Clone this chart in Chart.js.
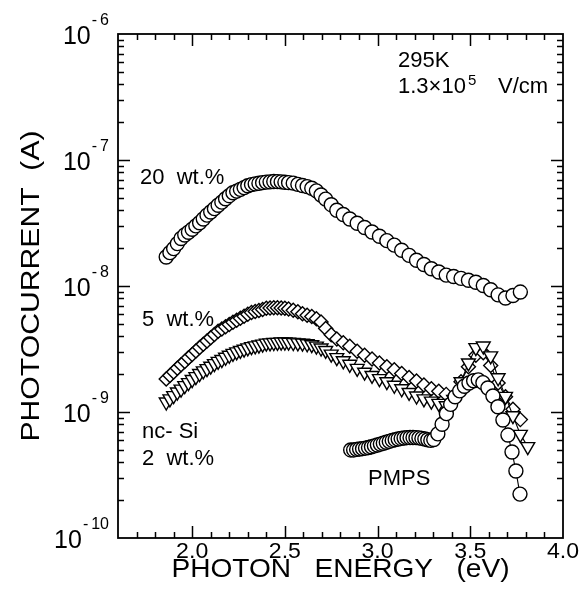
<!DOCTYPE html>
<html>
<head>
<meta charset="utf-8">
<script src="https://cdn.jsdelivr.net/npm/chart.js@4.4.1/dist/chart.umd.min.js"></script>
<style>
  html, body { margin: 0; padding: 0; background: #fff; }
</style>
</head>
<body>
<canvas id="photoChart" width="583" height="598"></canvas>
<script>
// Photon energies (eV) shared by the three nc-Si samples
const energy = [
  1.86, 1.88, 1.90, 1.92, 1.94, 1.96, 1.98, 2.00, 2.02, 2.04,
  2.06, 2.08, 2.10, 2.12, 2.14, 2.16, 2.18, 2.20, 2.22, 2.24,
  2.26, 2.28, 2.30, 2.32, 2.34, 2.36, 2.38, 2.40, 2.42, 2.44,
  2.46, 2.48, 2.50, 2.52, 2.545, 2.57, 2.595, 2.62, 2.645, 2.67,
  2.695, 2.72, 2.75, 2.78, 2.815, 2.85, 2.89, 2.93, 2.97, 3.01,
  3.05, 3.09, 3.13, 3.17, 3.21, 3.25, 3.29, 3.33, 3.37, 3.41,
  3.45, 3.49, 3.53, 3.57, 3.61, 3.65, 3.69, 3.73, 3.77, 3.81
];

// Photocurrent (A), 20 wt.% nc-Si
const current20 = [
  1.70e-8, 1.84e-8, 1.98e-8, 2.17e-8, 2.38e-8, 2.54e-8, 2.67e-8, 2.82e-8, 3.00e-8, 3.18e-8,
  3.40e-8, 3.65e-8, 3.87e-8, 4.11e-8, 4.37e-8, 4.63e-8, 4.92e-8, 5.21e-8, 5.50e-8, 5.66e-8,
  5.85e-8, 6.04e-8, 6.25e-8, 6.38e-8, 6.46e-8, 6.53e-8, 6.61e-8, 6.68e-8, 6.71e-8, 6.75e-8,
  6.73e-8, 6.70e-8, 6.65e-8, 6.61e-8, 6.55e-8, 6.41e-8, 6.28e-8, 6.15e-8, 5.96e-8, 5.69e-8,
  5.28e-8, 4.89e-8, 4.42e-8, 3.99e-8, 3.69e-8, 3.40e-8, 3.15e-8, 2.91e-8, 2.68e-8, 2.48e-8,
  2.29e-8, 2.11e-8, 1.92e-8, 1.75e-8, 1.60e-8, 1.48e-8, 1.37e-8, 1.29e-8, 1.22e-8, 1.19e-8,
  1.15e-8, 1.11e-8, 1.07e-8, 1.01e-8, 9.33e-9, 8.51e-9, 8.04e-9, 8.40e-9, 8.95e-9, null
];

// Photocurrent (A), 5 wt.% nc-Si
const current5 = [
  1.83e-9, 1.95e-9, 2.08e-9, 2.22e-9, 2.37e-9, 2.52e-9, 2.69e-9, 2.86e-9, 3.05e-9, 3.25e-9,
  3.45e-9, 3.66e-9, 3.89e-9, 4.13e-9, 4.37e-9, 4.55e-9, 4.74e-9, 4.94e-9, 5.15e-9, 5.35e-9,
  5.55e-9, 5.75e-9, 5.96e-9, 6.15e-9, 6.27e-9, 6.40e-9, 6.52e-9, 6.65e-9, 6.70e-9, 6.73e-9,
  6.73e-9, 6.70e-9, 6.65e-9, 6.58e-9, 6.43e-9, 6.24e-9, 6.03e-9, 5.86e-9, 5.73e-9, 5.50e-9,
  5.19e-9, 4.60e-9, 4.10e-9, 3.80e-9, 3.55e-9, 3.33e-9, 3.03e-9, 2.82e-9, 2.63e-9, 2.45e-9,
  2.29e-9, 2.16e-9, 2.02e-9, 1.88e-9, 1.76e-9, 1.64e-9, 1.53e-9, 1.46e-9, 1.38e-9, 1.26e-9,
  1.74e-9, 2.29e-9, 2.82e-9, 2.95e-9, 2.34e-9, 1.70e-9, 1.32e-9, 1.05e-9, 8.70e-10, null
];

// Photocurrent (A), 2 wt.% nc-Si
const current2 = [
  1.20e-9, 1.27e-9, 1.35e-9, 1.44e-9, 1.52e-9, 1.62e-9, 1.71e-9, 1.81e-9, 1.91e-9, 2.02e-9,
  2.12e-9, 2.21e-9, 2.31e-9, 2.42e-9, 2.52e-9, 2.61e-9, 2.72e-9, 2.82e-9, 2.92e-9, 3.00e-9,
  3.08e-9, 3.15e-9, 3.23e-9, 3.30e-9, 3.35e-9, 3.40e-9, 3.46e-9, 3.52e-9, 3.54e-9, 3.56e-9,
  3.57e-9, 3.59e-9, 3.59e-9, 3.58e-9, 3.56e-9, 3.54e-9, 3.52e-9, 3.48e-9, 3.42e-9, 3.33e-9,
  3.22e-9, 3.08e-9, 2.88e-9, 2.70e-9, 2.55e-9, 2.39e-9, 2.22e-9, 2.07e-9, 1.95e-9, 1.84e-9,
  1.74e-9, 1.63e-9, 1.53e-9, 1.43e-9, 1.34e-9, 1.27e-9, 1.22e-9, 1.17e-9, 1.12e-9, 1.26e-9,
  1.74e-9, 2.45e-9, 3.24e-9, 3.34e-9, 2.79e-9, 1.87e-9, 1.33e-9, 9.35e-10, 6.64e-10, 5.31e-10
];

// Pure PMPS film, measured on a finer grid
const pmpsEnergy = [
  2.855, 2.871, 2.887, 2.903, 2.919, 2.935, 2.951, 2.967, 2.983, 2.999,
  3.015, 3.031, 3.047, 3.063, 3.079, 3.095, 3.111, 3.127, 3.143, 3.159,
  3.175, 3.191, 3.207, 3.223, 3.239, 3.255, 3.271, 3.287, 3.303, 3.325,
  3.348, 3.371, 3.394, 3.418, 3.443, 3.468, 3.493, 3.518, 3.543, 3.568,
  3.595, 3.622, 3.649, 3.676, 3.703, 3.725, 3.746, 3.768
];
const pmpsCurrent = [
  5.00e-10, 5.00e-10, 5.05e-10, 5.08e-10, 5.12e-10, 5.17e-10, 5.23e-10, 5.30e-10, 5.38e-10, 5.47e-10,
  5.56e-10, 5.65e-10, 5.75e-10, 5.85e-10, 5.95e-10, 6.03e-10, 6.11e-10, 6.17e-10, 6.22e-10, 6.26e-10,
  6.28e-10, 6.28e-10, 6.26e-10, 6.23e-10, 6.17e-10, 6.10e-10, 6.02e-10, 5.95e-10, 6.05e-10, 6.70e-10,
  8.00e-10, 9.70e-10, 1.15e-9, 1.32e-9, 1.47e-9, 1.60e-9, 1.70e-9, 1.77e-9, 1.80e-9, 1.71e-9,
  1.55e-9, 1.34e-9, 1.10e-9, 8.65e-10, 6.56e-10, 4.82e-10, 3.40e-10, 2.23e-10
];

// Axis ticks
const xTicks = [2.0, 2.5, 3.0, 3.5, 4.0];
const xTickLabels = ['2.0', '2.5', '3.0', '3.5', '4.0'];
const yExponents = [-6, -7, -8, -9, -10];

const FONT = '"Liberation Sans", Arial, Helvetica, sans-serif';

function points(xs, ys) {
  const out = [];
  xs.forEach((x, i) => {
    if (ys[i] != null) out.push({ x: x, y: ys[i] });
  });
  return out;
}

function series(data, style, radius, extra) {
  return Object.assign({
    data: data,
    showLine: true,
    borderColor: '#000',
    borderWidth: 1.1,
    pointStyle: style,
    pointRadius: radius,
    pointBorderWidth: 1.4,
    pointBorderColor: '#000',
    pointBackgroundColor: '#fff',
    backgroundColor: '#fff',
    tension: 0
  }, extra || {});
}

function text(ctx, str, x, y, size, align, sx) {
  ctx.save();
  ctx.font = size + 'px ' + FONT;
  ctx.textAlign = align || 'left';
  ctx.translate(x, y);
  ctx.scale(sx || 1, 1);
  ctx.fillText(str, 0, 0);
  ctx.restore();
}

// frame, inward ticks on all four sides, and every label
const framePlugin = {
  id: 'frame',
  afterDraw(chart) {
    const ctx = chart.ctx;
    const xs = chart.scales.x, ys = chart.scales.y;
    const a = chart.chartArea;
    ctx.save();
    ctx.strokeStyle = '#000';
    ctx.fillStyle = '#000';

    ctx.lineWidth = 1.8;
    ctx.strokeRect(a.left, a.top, a.right - a.left, a.bottom - a.top);

    ctx.lineWidth = 1.5;
    ctx.beginPath();
    for (let k = 17; k <= 39; k++) {
      const px = Math.round(xs.getPixelForValue(k / 10)) + 0.5;
      const len = k % 5 === 0 ? 12 : 6;
      ctx.moveTo(px, a.bottom); ctx.lineTo(px, a.bottom - len);
      ctx.moveTo(px, a.top); ctx.lineTo(px, a.top + len);
    }
    for (let d = -10; d <= -7; d++) {
      for (let m = 1; m <= 9; m++) {
        if (m === 1 && d === -10) continue;
        const py = Math.round(ys.getPixelForValue(m * Math.pow(10, d))) + 0.5;
        const len = m === 1 ? 12 : 6;
        ctx.moveTo(a.left, py); ctx.lineTo(a.left + len, py);
        ctx.moveTo(a.right, py); ctx.lineTo(a.right - len, py);
      }
    }
    ctx.stroke();

    // x tick labels
    ctx.textBaseline = 'alphabetic';
    xTicks.forEach((v, i) => {
      text(ctx, xTickLabels[i], xs.getPixelForValue(v), 558, 22, 'center', 1.05);
    });

    // y tick labels as powers of ten
    yExponents.forEach(e => {
      const py = ys.getPixelForValue(Math.pow(10, e));
      const digits = String(-e);
      ctx.font = '16px ' + FONT;
      const wDigits = ctx.measureText(digits).width;
      const wMinus = ctx.measureText('-').width;
      const right = 109;
      const digX = right - wDigits;
      const minusX = digX - 3 - wMinus;
      ctx.textAlign = 'left';
      ctx.fillText(digits, digX, py - 9);
      ctx.fillText('-', minusX, py - 9);
      ctx.font = '25px ' + FONT;
      ctx.textAlign = 'right';
      ctx.fillText('10', minusX - 1, py + 10);
    });

    // axis titles
    text(ctx, 'PHOTON   ENERGY   (eV)', (a.left + a.right) / 2, 577, 26, 'center', 1.08);
    ctx.save();
    ctx.translate(39, (a.top + a.bottom) / 2);
    ctx.rotate(-Math.PI / 2);
    text(ctx, 'PHOTOCURRENT  (A)', 0, 0, 26, 'center', 1.16);
    ctx.restore();

    // measurement conditions
    text(ctx, '295K', 398, 67, 22);
    ctx.font = '22px ' + FONT;
    const head = '1.3\u00d710';
    text(ctx, head, 398, 93, 22);
    const wHead = ctx.measureText(head).width;
    text(ctx, '5', 398 + wHead + 2, 85, 15);
    text(ctx, 'V/cm', 498, 93, 22);

    // curve labels
    text(ctx, '20  wt.%', 140, 184, 22);
    text(ctx, '5  wt.%', 142, 326, 22);
    text(ctx, 'nc- Si', 142, 438, 22);
    text(ctx, '2  wt.%', 142, 465, 22);
    text(ctx, 'PMPS', 368, 485, 22);

    ctx.restore();
  }
};

new Chart(document.getElementById('photoChart'), {
  type: 'scatter',
  data: {
    datasets: [
      series(points(pmpsEnergy, pmpsCurrent), 'circle', 7),
      series(points(energy, current2), 'triangle', 8, { pointRotation: 180 }),
      series(points(energy, current5), 'rectRot', 7),
      series(points(energy, current20), 'circle', 7)
    ]
  },
  options: {
    responsive: false,
    animation: false,
    layout: { padding: { top: 34, right: 20, left: 0, bottom: 0 } },
    plugins: {
      legend: { display: false },
      tooltip: { enabled: false }
    },
    scales: {
      x: {
        type: 'linear',
        min: 1.6,
        max: 4.0,
        grid: { display: false },
        border: { display: false },
        ticks: { display: false },
        afterFit(scale) { scale.height = 60; }
      },
      y: {
        type: 'logarithmic',
        min: 1e-10,
        max: 1e-6,
        grid: { display: false },
        border: { display: false },
        ticks: { display: false },
        afterFit(scale) { scale.width = 118; }
      }
    }
  },
  plugins: [framePlugin]
});
</script>
</body>
</html>
